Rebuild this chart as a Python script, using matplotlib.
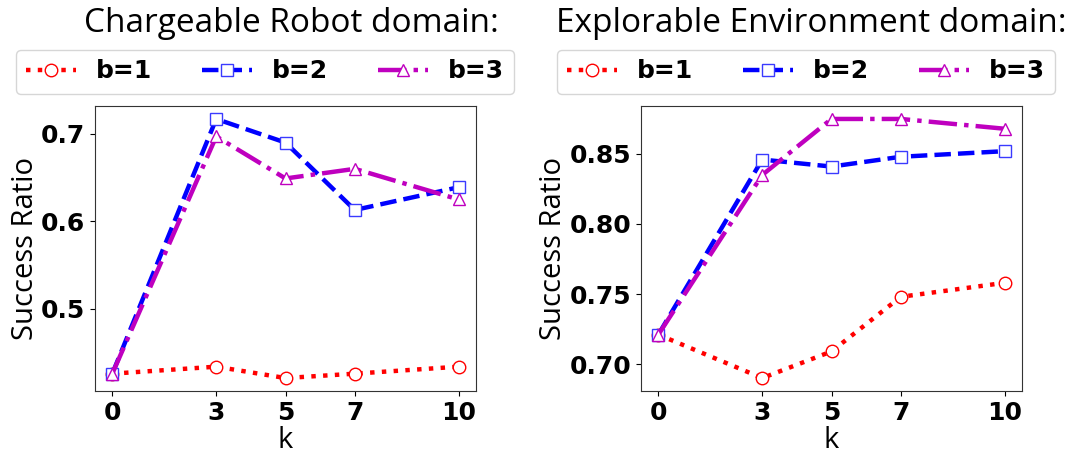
import matplotlib
matplotlib.use("Agg")
import matplotlib.pyplot as plt

k_values = [0, 3, 5, 7, 10]
x_ticklabels = ["0", "3", "5", "7", "10"]

robot_b1 = [0.426, 0.434, 0.421, 0.426, 0.434]
robot_b2 = [0.426, 0.717, 0.690, 0.613, 0.639]
robot_b3 = [0.426, 0.697, 0.649, 0.660, 0.625]

env_b1 = [0.721, 0.690, 0.709, 0.748, 0.758]
env_b2 = [0.721, 0.846, 0.841, 0.848, 0.852]
env_b3 = [0.721, 0.835, 0.875, 0.875, 0.868]

series_labels = ["b=1", "b=2", "b=3"]
titles = ["Chargeable Robot domain:", "Explorable Environment domain:"]

styles = [
    dict(color="red", linestyle=":", marker="o", mec="red"),
    dict(color="blue", linestyle="--", marker="s", mec="#3a3aff"),
    dict(color="m", linestyle="-.", marker="^", mec="m"),
]

W, H = 1075, 454
fig = plt.figure(figsize=(W / 100, H / 100), dpi=100)

axes_px = [(95, 106, 476, 391), (641, 106, 1022, 391)]
legend_x = [0.446, 0.433]
title_cx = [291, 811]
data = [[robot_b1, robot_b2, robot_b3], [env_b1, env_b2, env_b3]]

label_font = "Open Sans"

for i in range(2):
    x0, y0, x1, y1 = axes_px[i]
    ax = fig.add_axes([x0 / W, (H - y1) / H, (x1 - x0) / W, (y1 - y0) / H])
    for j, ys in enumerate(data[i]):
        st = styles[j]
        ax.plot(k_values, ys, color=st["color"], linestyle=st["linestyle"],
                linewidth=3.2, marker=st["marker"], markersize=9,
                markerfacecolor="white", markeredgecolor=st["mec"],
                markeredgewidth=1.0, label=series_labels[j])
    ax.set_xticks(k_values)
    ax.set_xticklabels(x_ticklabels)
    for lbl in ax.get_xticklabels() + ax.get_yticklabels():
        lbl.set_fontweight("bold")
        lbl.set_fontsize(18)
    ax.set_xlabel("k", fontsize=21, family=label_font, labelpad=1)
    ax.set_ylabel("Success Ratio", fontsize=21, family=label_font, labelpad=1)
    for sp in ax.spines.values():
        sp.set_color("#333333")
    leg = ax.legend(loc="lower center", bbox_to_anchor=(legend_x[i], 1.0), ncol=3,
                    prop=dict(weight="bold", size=18), borderaxespad=0.5)
    fig.text(title_cx[i] / W, (H - 32) / H, titles[i], ha="center", va="baseline",
             fontsize=24, family=label_font)

ax1 = fig.axes[0]
ax1.set_yticks([0.5, 0.6, 0.7])
ax2 = fig.axes[1]
ax2.set_yticks([0.70, 0.75, 0.80, 0.85])

fig.savefig("out.png", dpi=100)
